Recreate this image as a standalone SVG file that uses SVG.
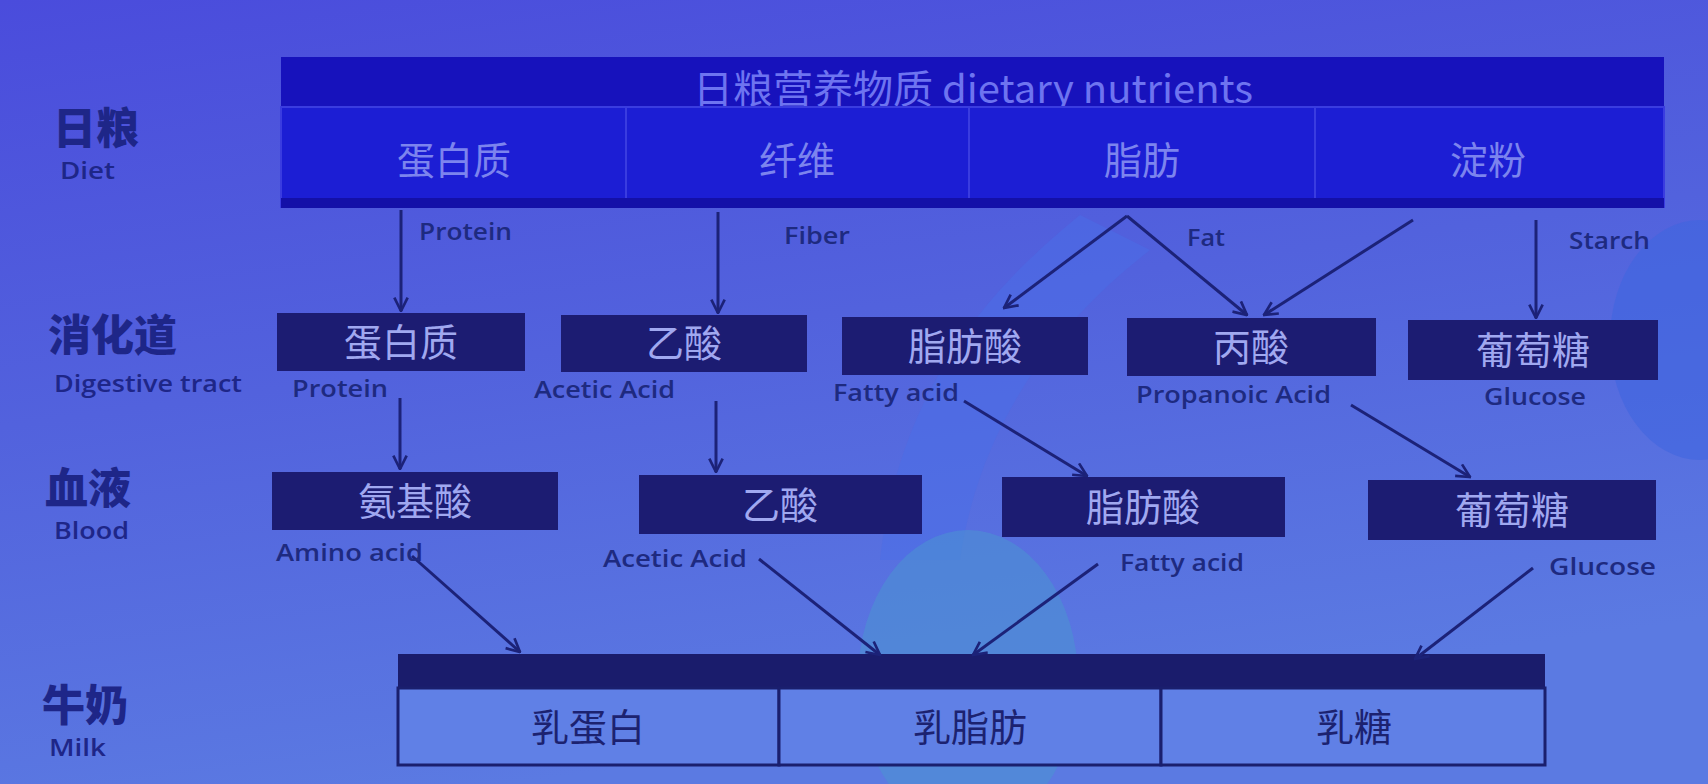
<svg xmlns="http://www.w3.org/2000/svg" width="1708" height="784" viewBox="0 0 1708 784">
<style>
.side{font-family:"Noto Sans CJK SC","Noto Sans",sans-serif;font-weight:900;font-size:43px;fill:#1e2688}
.sideEn{font-family:"Open Sans","Noto Sans",sans-serif;font-weight:600;font-size:24px;fill:#1e2688}
.lab{font-family:"Open Sans","Noto Sans",sans-serif;font-weight:600;font-size:24px;fill:#1e2a80}
.cell{fill:#1c1ed4;stroke:#3a3ce0;stroke-width:2}
.cellTxt{font-family:"Noto Sans CJK SC",sans-serif;font-size:38px;fill:#7c84ee;text-anchor:middle}
.box{fill:#1c1c72}
.boxTxt{font-family:"Noto Sans CJK SC",sans-serif;font-size:38px;fill:#a0a8f0;text-anchor:middle}
.milk{fill:#6080e6;stroke:#1a1f6e;stroke-width:3}
.milkTxt{font-family:"Noto Sans CJK SC",sans-serif;font-size:38px;fill:#1c2270;text-anchor:middle}
.arr{stroke:#1c2278;stroke-width:3;fill:none;marker-end:url(#ah)}
</style>
<defs>
<linearGradient id="bg" x1="0" y1="0" x2="0.3" y2="1">
<stop offset="0" stop-color="#4a4cdc"/>
<stop offset="0.5" stop-color="#5262dd"/>
<stop offset="1" stop-color="#5b7ae2"/>
</linearGradient>
<marker id="ah" viewBox="0 0 12 12" refX="11" refY="6" markerWidth="16" markerHeight="16" markerUnits="userSpaceOnUse" orient="auto">
<path d="M1,1 L11,6 L1,11" fill="none" stroke="#1c2278" stroke-width="2"/>
</marker>
</defs>
<rect width="1708" height="784" fill="url(#bg)"/>
<!-- background decorations -->
<path d="M1080,215 C1000,280 900,380 880,560 L960,560 C980,420 1060,320 1150,250 Z" fill="#4a6ee8" opacity="0.5"/>
<ellipse cx="968" cy="680" rx="110" ry="150" fill="#4a94d2" opacity="0.55"/>
<ellipse cx="1700" cy="340" rx="90" ry="120" fill="#3f66e0" opacity="0.6"/>

<g id="labels-side">
<text class="side" x="53" y="144">日粮</text>
<text class="sideEn" x="60" y="179" textLength="55" lengthAdjust="spacingAndGlyphs">Diet</text>
<text class="side" x="48" y="351">消化道</text>
<text class="sideEn" x="54" y="392" textLength="188" lengthAdjust="spacingAndGlyphs">Digestive tract</text>
<text class="side" x="45" y="504">血液</text>
<text class="sideEn" x="54" y="539" textLength="75" lengthAdjust="spacingAndGlyphs">Blood</text>
<text class="side" x="42" y="721">牛奶</text>
<text class="sideEn" x="49" y="756" textLength="57" lengthAdjust="spacingAndGlyphs">Milk</text>
</g>

<g id="diet">
<rect x="281" y="57" width="1383" height="50" fill="#1712bc"/>
<text x="973" y="103" font-family="Noto Sans CJK SC, Noto Sans, sans-serif" font-size="39" fill="#6e74f0" text-anchor="middle" textLength="560" lengthAdjust="spacingAndGlyphs">日粮营养物质 dietary nutrients</text>
<g id="diet-protein"><rect class="cell" x="281" y="107" width="345" height="100"/><text class="cellTxt" x="454" y="174">蛋白质</text></g>
<g id="diet-fiber"><rect class="cell" x="626" y="107" width="343" height="100"/><text class="cellTxt" x="797" y="174">纤维</text></g>
<g id="diet-fat"><rect class="cell" x="969" y="107" width="346" height="100"/><text class="cellTxt" x="1142" y="174">脂肪</text></g>
<g id="diet-starch"><rect class="cell" x="1315" y="107" width="349" height="100"/><text class="cellTxt" x="1488" y="174">淀粉</text></g>
<rect x="281" y="198" width="1383" height="10" fill="#1410a8"/>
</g>

<g id="digestive">
<g id="dt-protein"><rect class="box" x="277" y="313" width="248" height="58"/><text class="boxTxt" x="401" y="356">蛋白质</text></g>
<g id="dt-acetic"><rect class="box" x="561" y="315" width="246" height="57"/><text class="boxTxt" x="684" y="357">乙酸</text></g>
<g id="dt-fatty"><rect class="box" x="842" y="317" width="246" height="58"/><text class="boxTxt" x="965" y="360">脂肪酸</text></g>
<g id="dt-propanoic"><rect class="box" x="1127" y="318" width="249" height="58"/><text class="boxTxt" x="1251" y="361">丙酸</text></g>
<g id="dt-glucose"><rect class="box" x="1408" y="320" width="250" height="60"/><text class="boxTxt" x="1533" y="364">葡萄糖</text></g>
</g>

<g id="blood">
<g id="bl-amino"><rect class="box" x="272" y="472" width="286" height="58"/><text class="boxTxt" x="415" y="515">氨基酸</text></g>
<g id="bl-acetic"><rect class="box" x="639" y="475" width="283" height="59"/><text class="boxTxt" x="780" y="519">乙酸</text></g>
<g id="bl-fatty"><rect class="box" x="1002" y="477" width="283" height="60"/><text class="boxTxt" x="1143" y="521">脂肪酸</text></g>
<g id="bl-glucose"><rect class="box" x="1368" y="480" width="288" height="60"/><text class="boxTxt" x="1512" y="524">葡萄糖</text></g>
</g>

<g id="milk">
<rect x="398" y="654" width="1147" height="34" fill="#1a1c6c"/>
<g id="milk-protein"><rect class="milk" x="398" y="688" width="381" height="77"/><text class="milkTxt" x="588" y="741">乳蛋白</text></g>
<g id="milk-fat"><rect class="milk" x="779" y="688" width="382" height="77"/><text class="milkTxt" x="970" y="741">乳脂肪</text></g>
<g id="milk-lactose"><rect class="milk" x="1161" y="688" width="384" height="77"/><text class="milkTxt" x="1354" y="741">乳糖</text></g>
</g>

<g id="connectors">
<line class="arr" x1="401" y1="210" x2="401" y2="311"/>
<line class="arr" x1="718" y1="212" x2="718" y2="313"/>
<line class="arr" x1="1127" y1="216" x2="1004" y2="308"/>
<line class="arr" x1="1127" y1="216" x2="1247" y2="315"/>
<line class="arr" x1="1413" y1="220" x2="1264" y2="315"/>
<line class="arr" x1="1536" y1="220" x2="1536" y2="318"/>
<line class="arr" x1="400" y1="398" x2="400" y2="469"/>
<line class="arr" x1="716" y1="401" x2="716" y2="472"/>
<line class="arr" x1="964" y1="401" x2="1087" y2="476"/>
<line class="arr" x1="1351" y1="405" x2="1470" y2="477"/>
<line class="arr" x1="412" y1="556" x2="520" y2="652"/>
<line class="arr" x1="759" y1="559" x2="880" y2="655"/>
<line class="arr" x1="1098" y1="564" x2="973" y2="655"/>
<line class="arr" x1="1533" y1="568" x2="1415" y2="659"/>
<text class="lab" x="419" y="240" textLength="93" lengthAdjust="spacingAndGlyphs">Protein</text>
<text class="lab" x="784" y="244" textLength="66" lengthAdjust="spacingAndGlyphs">Fiber</text>
<text class="lab" x="1187" y="246" textLength="38" lengthAdjust="spacingAndGlyphs">Fat</text>
<text class="lab" x="1569" y="249" textLength="81" lengthAdjust="spacingAndGlyphs">Starch</text>
<text class="lab" x="292" y="397" textLength="96" lengthAdjust="spacingAndGlyphs">Protein</text>
<text class="lab" x="534" y="398" textLength="141" lengthAdjust="spacingAndGlyphs">Acetic Acid</text>
<text class="lab" x="833" y="401" textLength="126" lengthAdjust="spacingAndGlyphs">Fatty acid</text>
<text class="lab" x="1136" y="403" textLength="195" lengthAdjust="spacingAndGlyphs">Propanoic Acid</text>
<text class="lab" x="1484" y="405" textLength="102" lengthAdjust="spacingAndGlyphs">Glucose</text>
<text class="lab" x="276" y="561" textLength="147" lengthAdjust="spacingAndGlyphs">Amino acid</text>
<text class="lab" x="603" y="567" textLength="144" lengthAdjust="spacingAndGlyphs">Acetic Acid</text>
<text class="lab" x="1120" y="571" textLength="124" lengthAdjust="spacingAndGlyphs">Fatty acid</text>
<text class="lab" x="1549" y="575" textLength="107" lengthAdjust="spacingAndGlyphs">Glucose</text>
</g>
</svg>
